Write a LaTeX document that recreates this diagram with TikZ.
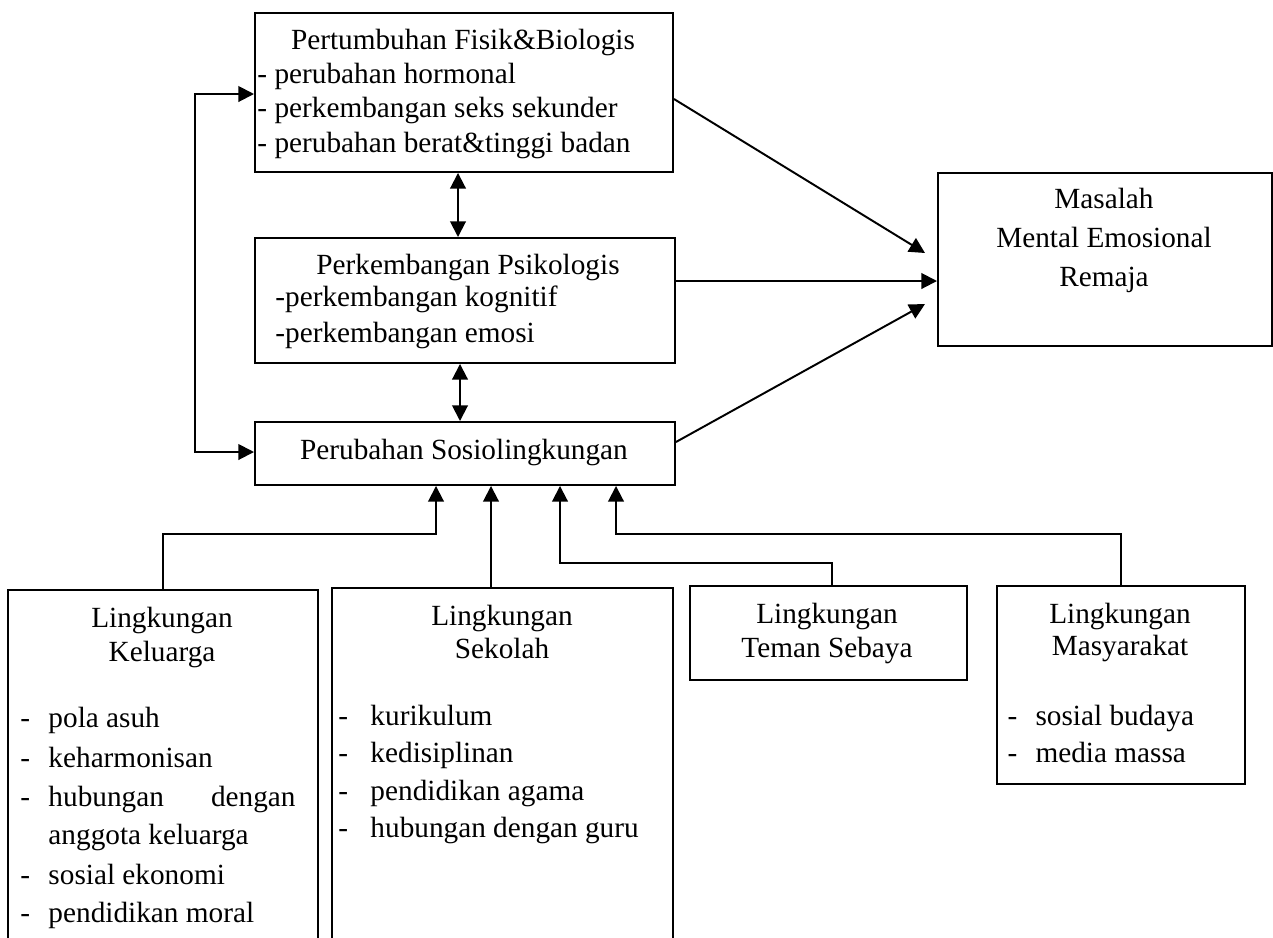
\documentclass[tikz,border=0pt]{standalone}
\usepackage{fontspec}
\setmainfont{Liberation Serif}
\usetikzlibrary{arrows.meta, positioning}

\def\px{0.41pt}

\begin{document}
\begin{tikzpicture}[
            x=0.41pt, y=-0.41pt,
            font=\fontsize{12}{14}\selectfont,
            box/.style 2 args={draw, line width=0.8pt, anchor=north west, inner sep=0,
                minimum width=#1*\px, minimum height=#2*\px},
            conn/.style={line width=0.8pt, -{Triangle[length=6.4pt, width=6.4pt]}},
            conn2/.style={line width=0.8pt, {Triangle[length=6.4pt, width=6.4pt]}-{Triangle[length=6.4pt, width=6.4pt]}},
            title/.style={inner sep=0, anchor=base},
            item/.style={inner sep=0, anchor=base west}
        ]
        \useasboundingbox (0,0) rectangle (1273,937);
        \clip (0,0) rectangle (1273,937);

        % boxes
        \node[box={418}{159}] (fisik) at (254,12) {};
        \node[box={420}{125}] (psiko) at (254,237) {};
        \node[box={420}{63}] (sosio) at (254,421) {};
        \node[box={334}{173}] (masalah) at (937,172) {};
        \node[box={310}{380}] (kelu) at (7,589) {};
        \node[box={341}{380}] (sekolah) at (331,587) {};
        \node[box={277}{94}] (teman) at (689,585) {};
        \node[box={248}{198}] (masy) at (996,585) {};

        % texts
        \node[title] (fisikT) at (463,49) {Pertumbuhan Fisik\&Biologis};
        \node[item] (fisikA) at (257,83) {- perubahan hormonal};
        \node[item] (fisikB) at (257,117) {- perkembangan seks sekunder};
        \node[item] (fisikC) at (257,152) {- perubahan berat\&tinggi badan};

        \node[title] (psikoT) at (468,274) {Perkembangan Psikologis};
        \node[item] (psikoA) at (275,306) {-perkembangan kognitif};
        \node[item] (psikoB) at (275,342) {-perkembangan emosi};

        \node[title] (sosioT) at (464,459) {Perubahan Sosiolingkungan};

        \node[title] (masalahA) at (1104,208) {Masalah};
        \node[title] (masalahB) at (1104,247) {Mental Emosional};
        \node[title] (masalahC) at (1104,286) {Remaja};

        \node[title] (keluT) at (162,627) {Lingkungan};
        \node[title] (keluU) at (162,661) {Keluarga};
        \node[item] (keluD1) at (20,727) {-};
        \node[item] (keluA) at (48,727) {pola asuh};
        \node[item] (keluD2) at (20,767) {-};
        \node[item] (keluB) at (48,767) {keharmonisan};
        \node[item] (keluD3) at (20,806) {-};
        \node[item] (keluC) at (48,806) {hubungan};
        \node[inner sep=0, anchor=base east] (keluC2) at (296,806) {dengan};
        \node[item] (keluC3) at (48,844) {anggota keluarga};
        \node[item] (keluD4) at (20,884) {-};
        \node[item] (keluE) at (48,884) {sosial ekonomi};
        \node[item] (keluD5) at (20,922) {-};
        \node[item] (keluF) at (48,922) {pendidikan moral};

        \node[title] (sekolahT) at (502,625) {Lingkungan};
        \node[title] (sekolahU) at (502,658) {Sekolah};
        \node[item] (sekolahD1) at (338,725) {-};
        \node[item] (sekolahA) at (370,725) {kurikulum};
        \node[item] (sekolahD2) at (338,762) {-};
        \node[item] (sekolahB) at (370,762) {kedisiplinan};
        \node[item] (sekolahD3) at (338,800) {-};
        \node[item] (sekolahC) at (370,800) {pendidikan agama};
        \node[item] (sekolahD4) at (338,837) {-};
        \node[item] (sekolahE) at (370,837) {hubungan dengan guru};

        \node[title] (temanT) at (827,623) {Lingkungan};
        \node[title] (temanU) at (827,657) {Teman Sebaya};

        \node[title] (masyT) at (1120,623) {Lingkungan};
        \node[title] (masyU) at (1120,655) {Masyarakat};
        \node[item] (masyD1) at (1007,725) {-};
        \node[item] (masyA) at (1035,725) {sosial budaya};
        \node[item] (masyD2) at (1007,762) {-};
        \node[item] (masyB) at (1035,762) {media massa};

        % connectors
        \coordinate (tipFisik) at (925,253);
        \coordinate (tipSosio) at (925,304);
        \coordinate (loopTop) at (195,94);
        \coordinate (loopBot) at (195,452);

        \draw[conn] (fisik.east |- 0,99) -- (tipFisik);
        \draw[conn] (psiko.east |- 0,281) -- (masalah.west |- 0,281);
        \draw[conn] (sosio.east |- 0,442) -- (tipSosio);

        \draw[conn2] (fisik.south -| 458,0) -- (psiko.north -| 458,0);
        \draw[conn2] (psiko.south -| 460,0) -- (sosio.north -| 460,0);
        \draw[conn2] (fisik.west |- loopTop) -- (loopTop) -- (loopBot) -- (sosio.west |- loopBot);

        \draw[conn] (kelu.north) |- (436,534) -- (sosio.south -| 436,0);
        \draw[conn] (sekolah.north -| 491,0) -- (sosio.south -| 491,0);
        \draw[conn] (teman.north -| 832,0) |- (560,563) -- (sosio.south -| 560,0);
        \draw[conn] (masy.north) |- (616,534) -- (sosio.south -| 616,0);
    \end{tikzpicture}
\end{document}
